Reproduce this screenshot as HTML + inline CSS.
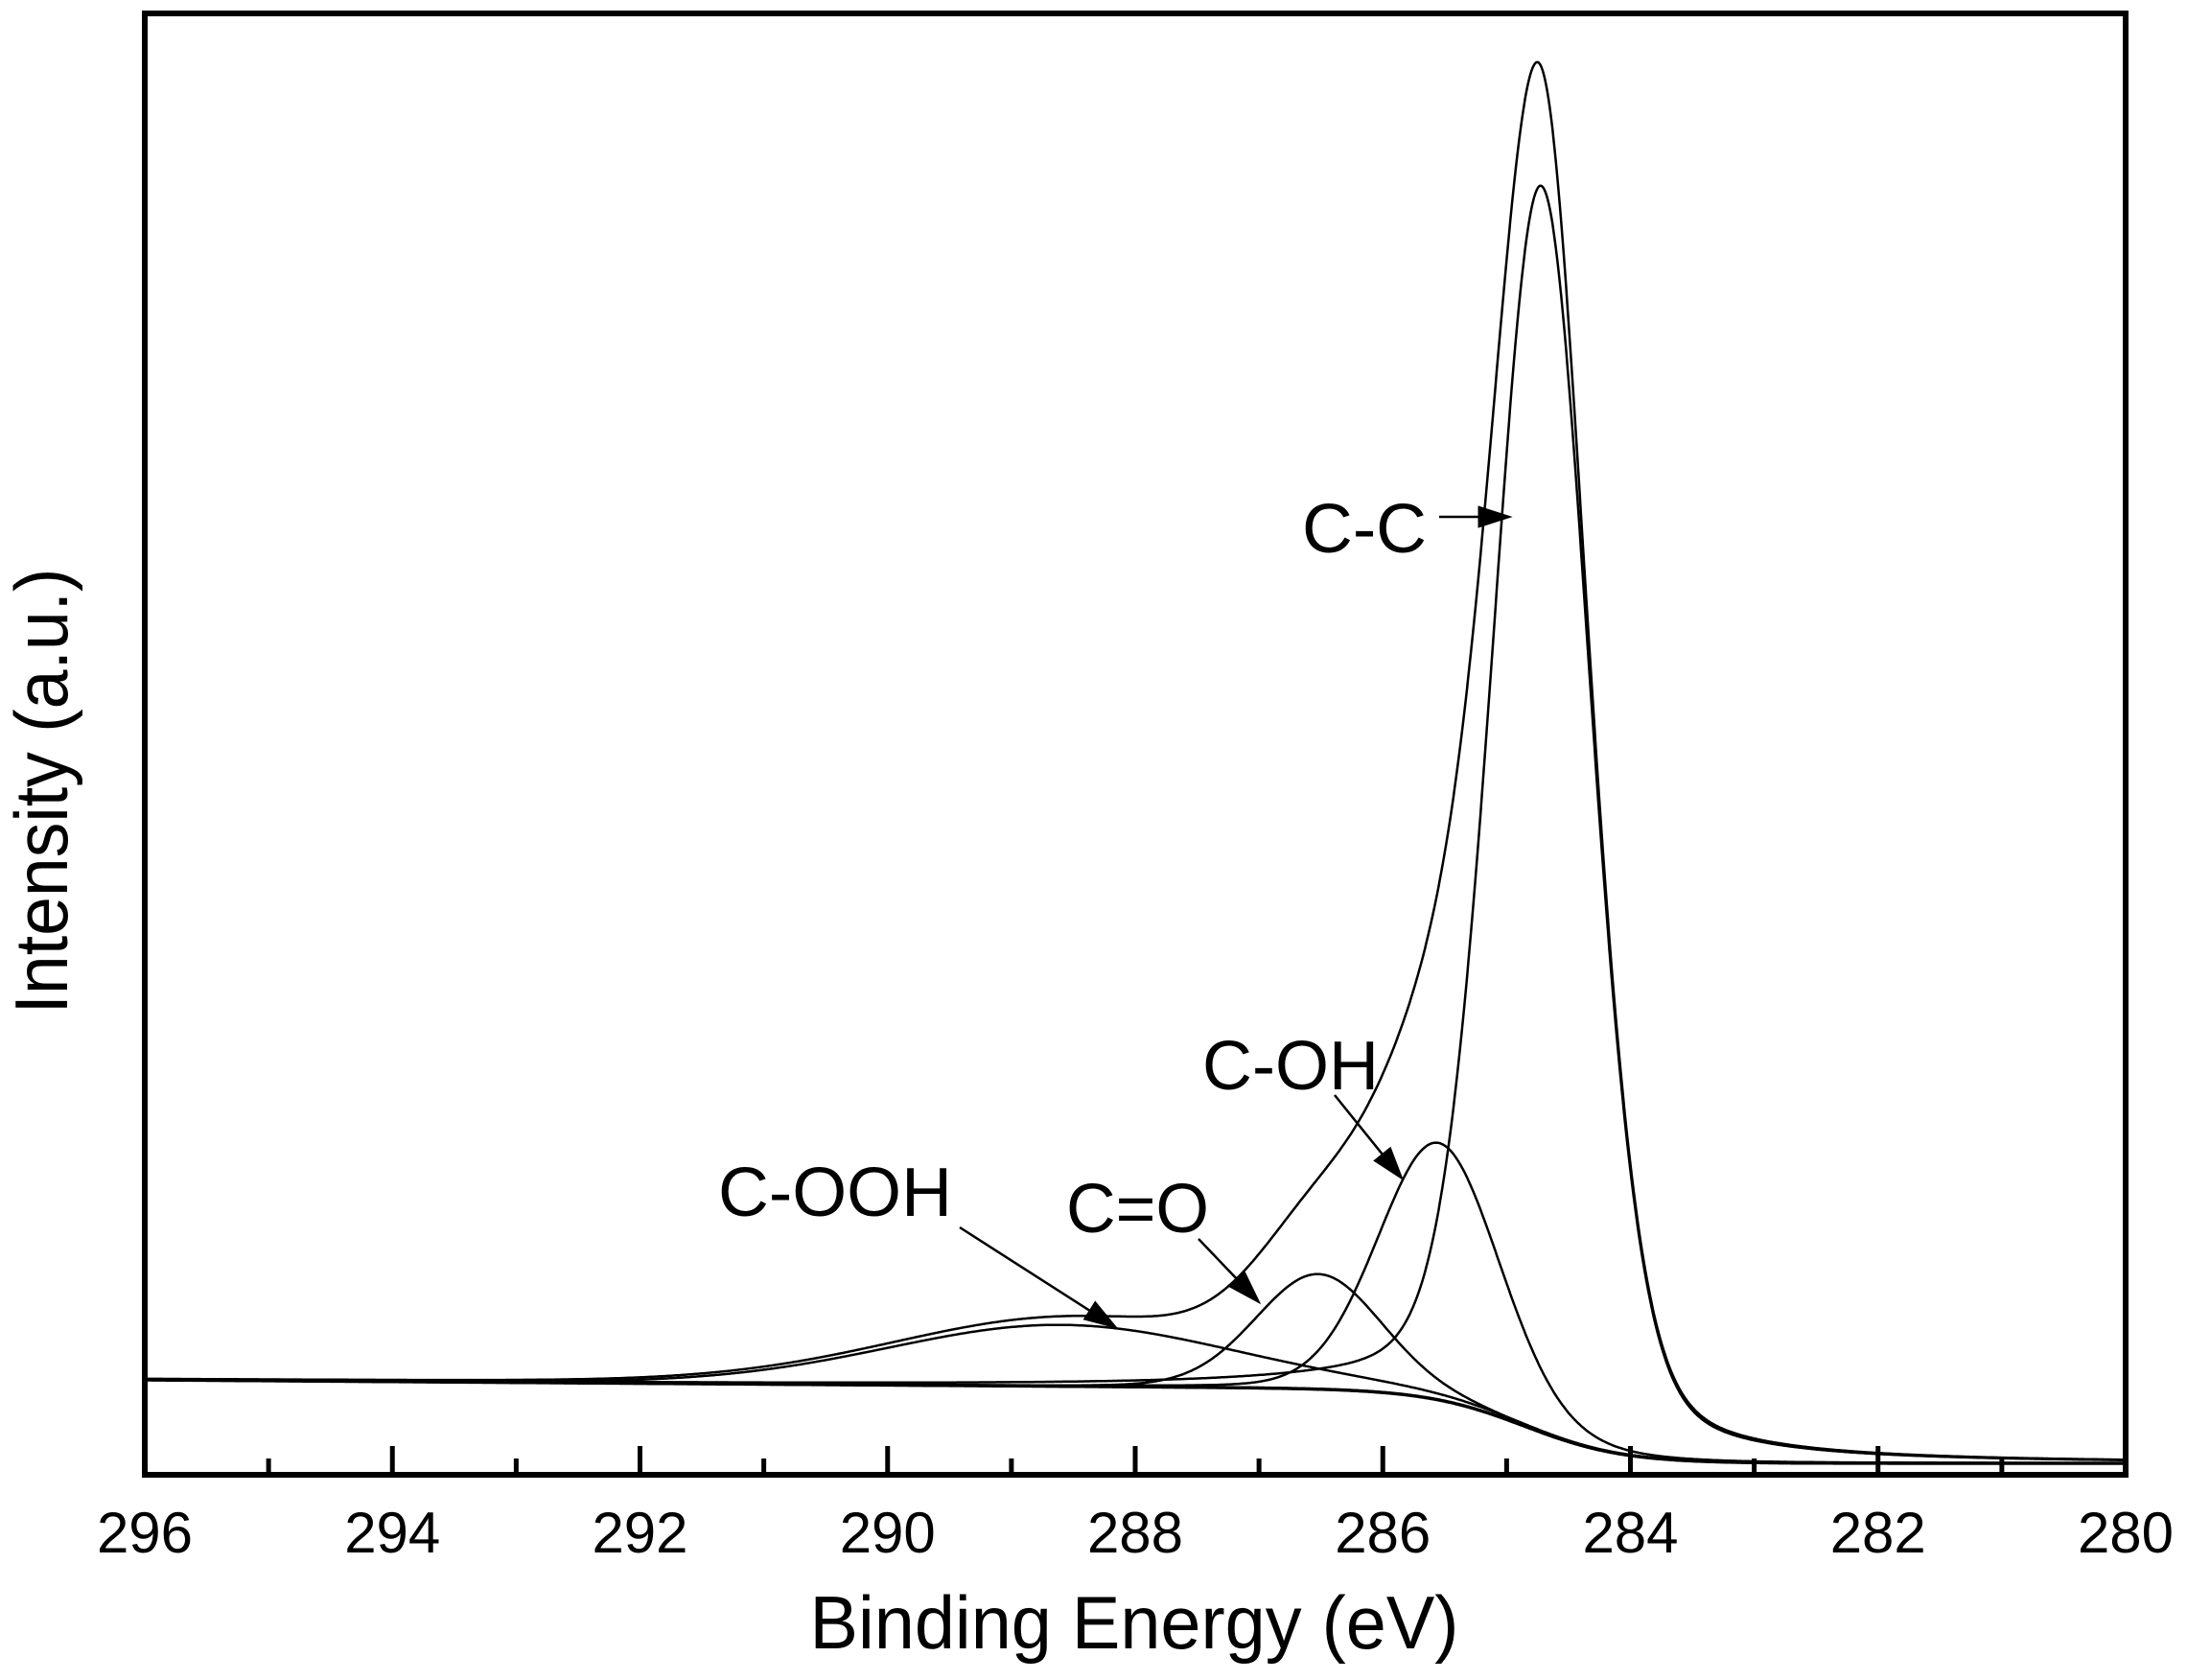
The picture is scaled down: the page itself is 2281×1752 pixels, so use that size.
<!DOCTYPE html>
<html><head><meta charset="utf-8">
<style>
html,body{margin:0;padding:0;background:#fff;}
svg{display:block;}
text{font-family:"Liberation Sans",Arial,sans-serif;fill:#000;}
</style></head>
<body>
<svg id="s" width="2281" height="1752" viewBox="0 0 2281 1752" xmlns="http://www.w3.org/2000/svg">
<g id="curves" fill="none" stroke="#000" stroke-linejoin="round"></g>
<rect x="151" y="14" width="2066" height="1524" fill="none" stroke="#000" stroke-width="6"/>
<g id="ticks" stroke="#000" stroke-width="5"></g>
<g id="tlabels" font-size="60" text-anchor="middle"></g>
<text x="1183" y="1719" font-size="78" text-anchor="middle" textLength="677" lengthAdjust="spacingAndGlyphs">Binding Energy (eV)</text>
<text transform="translate(70,825) rotate(-90)" font-size="78" text-anchor="middle" textLength="465" lengthAdjust="spacingAndGlyphs">Intensity (a.u.)</text>
<text x="1358" y="576" font-size="72" textLength="130" lengthAdjust="spacingAndGlyphs">C-C</text>
<text x="1254" y="1136" font-size="72" textLength="184" lengthAdjust="spacingAndGlyphs">C-OH</text>
<text x="1112" y="1285" font-size="72" textLength="149" lengthAdjust="spacingAndGlyphs">C=O</text>
<text x="749" y="1268" font-size="72" textLength="244" lengthAdjust="spacingAndGlyphs">C-OOH</text>
<g id="arrows" stroke="#000" stroke-width="2.5" fill="#000"></g>
</svg>
<script>
(function(){
var NS="http://www.w3.org/2000/svg";
function X(e){return 151+(296-e)*2066/16;}
function el(t,a,p){var n=document.createElementNS(NS,t);for(var k in a)n.setAttribute(k,a[k]);p.appendChild(n);return n;}
function base(e){
  var s=1/(1+Math.exp(-(284.85-e)/0.4));
  var lin=(296-e)*0.9;
  return 1439+lin*(1-s)+(1526-1439)*s;
}
function pv(e,c,w,eta){var d=(e-c)/(w/2);return (1-eta)*Math.exp(-Math.log(2)*d*d)+eta/(1+d*d);}
var comps=[
  {c:284.72,w:0.95,eta:0.25,a:1300},
  {c:285.55,w:1.15,eta:0.1,a:268},
  {c:286.52,w:1.2,eta:0.1,a:120},
  {c:288.6,w:3.3,eta:0.05,a:64}
];
function extra(e){
  if(e>=284.75) return 56*pv(e,284.75,2.6,0.4);
  return 56*pv(e,284.75,0.5,0.1);
}
var g=document.getElementById('curves');
function path(f,sw){
  var d="";
  for(var e=296;e>=280-1e-9;e-=0.01){var x=X(e),y=f(e);d+=(d?"L":"M")+x.toFixed(1)+" "+y.toFixed(1);}
  el('path',{d:d,'stroke-width':sw},g);
}
path(base,3.5);
comps.forEach(function(c){path(function(e){return base(e)-c.a*pv(e,c.c,c.w,c.eta);},2.5);});
path(function(e){var s=extra(e);comps.forEach(function(c){s+=c.a*pv(e,c.c,c.w,c.eta);});return base(e)-s;},2.5);
var tk=document.getElementById('ticks'),tl=document.getElementById('tlabels');
for(var v=296;v>=280;v--){
  var x=X(v),maj=(v%2===0);
  if(v!==296&&v!==280) el('line',{x1:x,y1:1538,x2:x,y2:maj?1508:1521},tk);
  if(maj){var t=el('text',{x:x,y:1619},tl);t.textContent=String(v);}
}
var ar=document.getElementById('arrows');
function arrow(x1,y1,x2,y2){
  var dx=x2-x1,dy=y2-y1,L=Math.sqrt(dx*dx+dy*dy),ux=dx/L,uy=dy/L,h=34,w=11;
  var bx=x2-ux*h,by=y2-uy*h;
  el('line',{x1:x1,y1:y1,x2:bx,y2:by},ar);
  el('polygon',{points:x2+","+y2+" "+(bx-uy*w)+","+(by+ux*w)+" "+(bx+uy*w)+","+(by-ux*w),'stroke-width':1},ar);
}
arrow(1501,539,1576,539);
arrow(1392,1142,1463,1230);
arrow(1250,1292,1314,1359);
arrow(1001,1280,1165,1385);
})();
</script>
</body></html>
